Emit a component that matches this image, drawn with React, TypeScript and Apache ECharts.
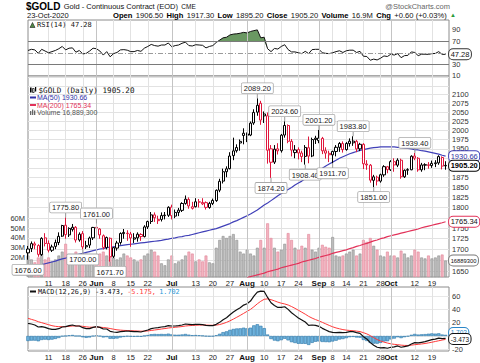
import React, { useEffect, useRef } from "react";
import * as echarts from "echarts";

// ---------- DATA ----------
const monthDays: [string, number[]][] = [
  ["May", [1, 4, 5, 6, 7, 8, 11, 12, 13, 14, 15, 18, 19, 20, 21, 22, 26, 27, 28, 29]],
  ["Jun", [1, 2, 3, 4, 5, 8, 9, 10, 11, 12, 15, 16, 17, 18, 19, 22, 23, 24, 25, 26, 29, 30]],
  ["Jul", [1, 2, 6, 7, 8, 9, 10, 13, 14, 15, 16, 17, 20, 21, 22, 23, 24, 27, 28, 29, 30, 31]],
  ["Aug", [3, 4, 5, 6, 7, 10, 11, 12, 13, 14, 17, 18, 19, 20, 21, 24, 25, 26, 27, 28, 31]],
  ["Sep", [1, 2, 3, 4, 8, 9, 10, 11, 14, 15, 16, 17, 18, 21, 22, 23, 24, 25, 28, 29, 30]],
  ["Oct", [1, 2, 5, 6, 7, 8, 9, 12, 13, 14, 15, 16, 19, 20, 21, 22, 23]],
];

const xTickLabels = [
  "May 11", "May 18", "May 26", "Jun 1", "Jun 8", "Jun 15", "Jun 22", "Jul 1", "Jul 13", "Jul 20",
  "Jul 27", "Aug 3", "Aug 10", "Aug 17", "Aug 24", "Sep 1", "Sep 8", "Sep 14", "Sep 21", "Sep 28",
  "Oct 1", "Oct 12", "Oct 19",
];

const opens = [
  1692, 1702, 1713, 1709, 1688, 1727, 1714, 1698, 1707, 1716,
  1731, 1757, 1734, 1747, 1752, 1722, 1737, 1706, 1710, 1727,
  1752, 1748, 1732, 1704, 1726, 1684, 1703, 1716, 1737, 1738,
  1736, 1724, 1727, 1735, 1730, 1753, 1766, 1782, 1768, 1771,
  1780, 1781, 1801, 1779, 1788, 1793, 1810, 1820, 1798, 1802,
  1814, 1809, 1812, 1800, 1810, 1817, 1843, 1866, 1890, 1898,
  1932, 1945, 1970, 1992, 1990, 1987, 2020, 2050, 2075, 2045,
  2040, 1950, 1915, 1950, 1945, 1987, 2013, 1970, 1940, 1948,
  1939, 1930, 1953, 1931, 1975, 1972, 1978, 1945, 1938, 1934,
  1943, 1954, 1964, 1948, 1964, 1966, 1970, 1950, 1962, 1910,
  1907, 1868, 1876, 1866, 1882, 1903, 1895, 1916, 1907, 1920,
  1877, 1894, 1895, 1931, 1925, 1895, 1907, 1908, 1906, 1911,
  1913, 1927, 1906.5,
];
const highs = [
  1708, 1718.5, 1718, 1712, 1728.5, 1738, 1721, 1711, 1723, 1740,
  1758, 1775.8, 1752, 1760, 1755, 1740, 1743, 1720, 1730, 1753,
  1761, 1750, 1735, 1730, 1728, 1706, 1720, 1740, 1748, 1745,
  1741, 1738, 1740, 1738, 1757, 1768, 1789, 1788, 1780, 1788,
  1789, 1803, 1807, 1795, 1799, 1813, 1829.8, 1825, 1814, 1823,
  1821, 1823, 1815, 1814, 1822, 1845, 1872, 1898, 1904, 1941,
  1980, 1962, 1975, 2005.4, 1994, 2024, 2058, 2089.2, 2082, 2052,
  2049, 1960, 1960, 1965, 1990, 2024.6, 2016, 1976, 1960, 1954,
  1945, 1960, 1983, 1980, 1985, 2001.2, 1982, 1954, 1945, 1945,
  1960, 1968, 1970, 1968, 1978, 1983.8, 1974, 1966, 1965, 1920,
  1910, 1882, 1880, 1885, 1907, 1905, 1920, 1925, 1925, 1924,
  1896, 1899, 1933, 1939.4, 1928, 1913, 1912, 1915, 1919, 1920,
  1933, 1930, 1917.3,
];
const lows = [
  1676, 1694, 1700.5, 1683, 1685, 1707, 1693, 1694, 1700.5, 1710,
  1729, 1725, 1729, 1742, 1716, 1718, 1700, 1701, 1703, 1722,
  1733, 1725, 1700, 1700, 1671.7, 1680, 1697, 1711, 1725, 1720,
  1706, 1715, 1718, 1720, 1728, 1748, 1760, 1765, 1760, 1766,
  1771, 1777, 1771, 1774, 1779, 1789, 1807, 1797, 1795, 1800,
  1800, 1806, 1795, 1797, 1806, 1814, 1838, 1860, 1876, 1896,
  1920, 1940, 1945, 1962, 1968, 1984, 2015, 2040, 2015, 2020,
  1911, 1874.2, 1910, 1935, 1940, 1980, 1965, 1930, 1925, 1922,
  1915, 1908.4, 1912, 1928, 1963, 1965, 1936, 1924, 1915, 1911.7,
  1930, 1942, 1940, 1945, 1956, 1958, 1941, 1944, 1897, 1895,
  1862, 1851, 1855, 1862, 1877, 1886, 1892, 1890, 1902, 1872,
  1874, 1882, 1894, 1920, 1890, 1890, 1894, 1898, 1900, 1902,
  1908, 1896, 1895.2,
];
const closes = [
  1700.9, 1713.5, 1710.0, 1688.5, 1725.8, 1713.9, 1698.0, 1705.8, 1715.9, 1730.6,
  1756.3, 1734.7, 1749.4, 1752.1, 1721.9, 1735.5, 1705.9, 1708.8, 1726.6, 1751.7,
  1750.3, 1734.0, 1704.6, 1727.7, 1683.0, 1704.0, 1714.9, 1737.3, 1739.8, 1737.0,
  1726.8, 1727.1, 1735.6, 1730.0, 1753.0, 1765.8, 1782.0, 1775.0, 1771.0, 1780.3,
  1781.4, 1800.5, 1779.9, 1788.0, 1793.5, 1809.9, 1820.6, 1803.8, 1801.9, 1814.1,
  1813.4, 1812.3, 1800.3, 1810.0, 1817.4, 1842.8, 1865.5, 1890.0, 1897.5, 1931.0,
  1944.6, 1953.4, 1965.6, 1985.9, 1986.3, 2019.6, 2049.3, 2069.4, 2028.0, 2039.7,
  1946.3, 1914.6, 1949.0, 1944.7, 1986.7, 2013.1, 1970.2, 1946.6, 1947.0, 1939.0,
  1929.5, 1953.8, 1930.8, 1974.9, 1978.6, 1978.9, 1944.7, 1938.6, 1934.3, 1943.2,
  1954.1, 1964.3, 1947.9, 1964.3, 1970.5, 1970.7, 1949.8, 1962.1, 1910.6, 1907.6,
  1868.4, 1876.9, 1866.3, 1882.3, 1903.2, 1895.5, 1916.3, 1907.6, 1920.1, 1877.2,
  1893.7, 1895.5, 1930.4, 1925.2, 1894.8, 1907.6, 1908.3, 1906.4, 1911.7, 1913.1,
  1929.5, 1904.6, 1905.2,
];
const volumesM = [
  22, 18, 15, 20, 24, 18, 20, 16, 18, 22,
  26, 34, 22, 18, 26, 16, 24, 24, 20, 22,
  20, 24, 26, 22, 32, 20, 18, 20, 24, 22,
  20, 18, 16, 18, 22, 24, 28, 26, 22, 14,
  12, 18, 22, 14, 16, 18, 22, 26, 24, 16,
  18, 16, 22, 15, 14, 30, 38, 42, 40, 42,
  44, 38, 26, 24, 28, 24, 22, 30, 38, 30,
  55, 40, 30, 26, 28, 34, 45, 38, 30, 28,
  32, 30, 44, 28, 26, 30, 33, 31, 30, 41,
  22, 21, 22, 24, 26, 28, 22, 24, 38, 36,
  40, 32, 28, 22, 21, 26, 22, 22, 20, 27,
  24, 20, 22, 28, 26, 20, 19, 22, 19, 20,
  22, 23, 16.8893,
];
const ma50 = [
  1655, 1658, 1660, 1662, 1665, 1667, 1669, 1671, 1673, 1676,
  1678, 1680, 1683, 1685, 1687, 1689, 1691, 1693, 1695, 1697,
  1699, 1701, 1702, 1704, 1705, 1706, 1707, 1709, 1710, 1711,
  1712, 1713, 1714, 1715, 1716, 1717, 1718, 1719, 1720, 1721,
  1723, 1724, 1726, 1727, 1729, 1730, 1732, 1733, 1735, 1737,
  1739, 1741, 1743, 1745, 1747, 1749, 1752, 1755, 1758, 1761,
  1765, 1768, 1772, 1776, 1780, 1784, 1789, 1794, 1800, 1806,
  1811, 1817, 1823, 1829, 1835, 1840, 1845, 1850, 1856, 1861,
  1866, 1872, 1877, 1882, 1888, 1893, 1899, 1905, 1910, 1915,
  1920, 1925, 1929, 1933, 1937, 1940, 1943, 1946, 1948, 1950,
  1952, 1953, 1954, 1955, 1955, 1955, 1955, 1955, 1954, 1953,
  1952, 1951, 1950, 1948, 1947, 1945, 1944, 1942, 1940, 1938,
  1936, 1933, 1930.66,
];
const ma200Start = 64;
const ma200 = [
  1636, 1638, 1640, 1642, 1644, 1646, 1649, 1651, 1653, 1655,
  1658, 1660, 1662, 1664, 1666, 1668, 1671, 1673, 1675, 1677,
  1679, 1682, 1684, 1686, 1688, 1691, 1693, 1695, 1697, 1699,
  1702, 1704, 1707, 1709, 1712, 1714, 1717, 1720, 1722, 1725,
  1727, 1730, 1732, 1734, 1736, 1738, 1740, 1742, 1744, 1746,
  1748, 1751, 1753, 1755, 1757, 1759, 1761, 1763, 1765.34,
];
const rsi14 = [
  54, 56, 55, 49, 56, 53, 50, 52, 54, 57,
  61, 55, 58, 58.5, 51, 54, 48, 49, 53, 58,
  57, 53, 46, 52, 43, 48.5, 50.5, 55, 55.5, 54.5,
  52, 52, 54, 52.5, 58, 61, 64.5, 62.5, 61.5, 63.5,
  63.5, 67, 60.5, 62.5, 63.5, 66.5, 68.5, 62.5, 61.8, 64,
  63.5, 63, 58.5, 61, 62.5, 68, 72, 76, 77, 81,
  82.5, 83, 84, 85.5, 84.5, 87, 88.5, 89.8, 76, 77,
  57, 52, 57.5, 56.5, 61, 64, 55.5, 51.5, 51.5, 50,
  48.5, 52.5, 48.5, 55.5, 56, 56, 50, 49, 48.5, 50,
  52, 53.5, 50.5, 53.5, 54.5, 54.5, 50.5, 52.5, 44, 43.5,
  37, 39, 37.5, 40.5, 44.5, 43.5, 47.5, 46, 48.5, 41.5,
  45, 45.5, 51.5, 50.5, 45, 47.5, 47.5, 47.2, 48.5, 48.8,
  52, 47.2, 47.28,
];
const macdLine = [
  19, 18, 16.5, 13.5, 14, 13, 11, 10, 10, 11,
  13.5, 14, 15.5, 16.5, 15, 15, 12.5, 11, 11, 13,
  14, 13, 10.5, 10.5, 7, 6, 5.5, 6.5, 7, 7.5,
  7, 6.5, 6.5, 6, 7.5, 9, 11, 12, 12.5, 13.5,
  14, 15.5, 15, 15, 15.5, 16.5, 18, 17.5, 17, 17.5,
  17.5, 17, 16, 15.5, 15.5, 17.5, 20.5, 24.5, 27.5, 32,
  36, 39.5, 42.5, 46.5, 48.5, 52.5, 60, 66, 67.5, 67,
  58, 50, 46, 43, 43, 44, 40, 35, 31, 27,
  24, 21, 16, 16.5, 16, 14.5, 11.5, 9, 6.5, 5.5,
  5, 5.5, 5, 5.5, 6.5, 6.5, 5, 4, -1, -4.5,
  -10, -14, -17, -18, -17.5, -18.5, -17, -16.5, -15, -17,
  -16, -15, -12, -10, -10.5, -9.5, -8.5, -7, -5.5, -4.8,
  -3.2, -3.9, -3.473,
];
const signalLine = [
  26.6, 25, 23.5, 21.5, 20, 18.5, 17, 15.5, 14.5, 14,
  14, 14, 14.5, 15, 15, 15, 14.5, 13.8, 13.2, 13.2,
  13.4, 13.3, 12.7, 12.2, 11.2, 10.2, 9.3, 8.8, 8.4, 8.2,
  8, 7.7, 7.5, 7.2, 7.3, 7.6, 8.3, 9, 9.7, 10.5,
  11.2, 12, 12.6, 13.1, 13.6, 14.2, 15, 15.5, 15.8, 16.1,
  16.4, 16.5, 16.4, 16.2, 16.1, 16.4, 17.2, 18.7, 20.5, 22.8,
  25.4, 28.2, 31, 34, 37, 40, 44, 48.4, 52.2, 55.2,
  55.8, 54.6, 52.9, 50.9, 49.3, 48.2, 46.6, 44.3, 41.6, 38.7,
  35.8, 32.8, 29.5, 26.9, 24.7, 22.7, 20.5, 18.2, 15.9, 13.8,
  12.1, 10.8, 9.6, 8.8, 8.3, 7.9, 7.3, 6.6, 5, 3.1,
  0.5, -2.5, -5.4, -7.6, -9.2, -10.6, -11.8, -12.6, -13.1, -13.8,
  -14.2, -14.3, -13.8, -13.1, -12.6, -12, -11.3, -10.4, -9.4, -8.3,
  -7.2, -6.1, -5.175,
];
// labelled highs / lows
const annotations: [number, number, "top" | "bottom"][] = [
  [0, 1676.0, "bottom"], [11, 1775.8, "top"], [16, 1700.0, "bottom"], [20, 1761.0, "top"],
  [24, 1671.7, "bottom"], [67, 2089.2, "top"], [71, 1874.2, "bottom"], [75, 2024.6, "top"],
  [81, 1908.4, "bottom"], [85, 2001.2, "top"], [89, 1911.7, "bottom"], [95, 1983.8, "top"],
  [101, 1851.0, "bottom"], [113, 1939.4, "top"],
];
const priceGridTicks = [1650, 1675, 1700, 1725, 1750, 1775, 1800, 1825, 1850, 1875, 1900, 1925, 1950, 1975, 2000, 2025, 2050, 2075, 2100, 2125, 2150];
// labels hidden behind the value tags in the reference are left out
const priceLabelTicks = [1650, 1700, 1725, 1750, 1800, 1825, 1850, 1875, 1950, 1975, 2000, 2025, 2050, 2075, 2100];
const volumeLabelTicks = [20e6, 30e6, 40e6, 50e6, 60e6];
const rsiTicks = [10, 30, 70, 90];
const macdGridTicks = [-20, 0, 20, 40, 60];
const macdLabelTicks = [-20, 20, 40, 60];

// ---------- STYLE ----------
const BLACK = "#000000";
const RED = "#e0173c";
const FONT = "Liberation Sans";
const MONO = "DejaVu Sans Mono";

function buildOption() {
  const L = Math.log;
  const categories: string[] = [];
  const monthStarts: string[] = [];
  monthDays.forEach(([m, ds]) =>
    ds.forEach((d, k) => {
      const c = `${m} ${d}`;
      categories.push(c);
      if (k === 0) monthStarts.push(c);
    })
  );
  const axisCats = categories.concat([""]);
  const last = categories[categories.length - 1];
  const tickSet = new Set(xTickLabels);
  const isTick = (_i: number, v: string) => tickSet.has(v);
  const monthLines = monthStarts.filter((c) => tickSet.has(c));
  const fmtDate = (v: string) => {
    if (!tickSet.has(v)) return "";
    const [m, d] = v.split(" ");
    return monthStarts.includes(v) ? `{m|${m}}` : d;
  };

  const xAxis = (gridIndex: number, showLabels: boolean) => ({
    type: "category",
    gridIndex,
    data: axisCats,
    boundaryGap: false,
    axisLine: { show: false },
    axisTick: { show: false },
    axisLabel: {
      show: showLabels,
      interval: isTick,
      formatter: fmtDate,
      fontSize: 7.5,
      color: "#222",
      margin: 2,
      fontFamily: FONT,
      rich: { m: { fontWeight: "bold", fontSize: 8, color: "#111", fontFamily: FONT } },
    },
    splitLine: { show: true, interval: isTick, lineStyle: { color: "#e2e2e2", width: 1 } },
  });

  const yLabel = { fontSize: 7.5, color: "#333", margin: 3, fontFamily: FONT };

  const tag = (coord: [string, number], text: string, border: string, color = "#111", bold = false, fontSize = 7.5) => ({
    coord,
    value: 0,
    symbol: "rect",
    symbolSize: 0.1,
    label: {
      show: true,
      position: "right",
      distance: 3.5,
      formatter: text,
      fontSize,
      fontWeight: bold ? "bold" : "normal",
      color,
      fontFamily: FONT,
      backgroundColor: "#fff",
      borderColor: border,
      borderWidth: 1,
      borderRadius: 4,
      padding: [1, 1.5, 0, 1.5],
      lineHeight: 9,
    },
  });

  const monthMarkLines = (extra: any[] = []) => ({
    silent: true,
    symbol: ["none", "none"],
    label: { show: false },
    animation: false,
    lineStyle: { color: "#c4c4c4", width: 1, type: "solid" },
    data: monthLines.map((c) => ({ xAxis: c })).concat(extra),
  });

  const candleData = closes.map((c, i) => {
    const col = i === 0 || c >= closes[i - 1] ? BLACK : RED;
    return {
      value: [L(opens[i]), L(c), L(lows[i]), L(highs[i])],
      itemStyle: { color: "#ffffff", color0: col, borderColor: col, borderColor0: col, borderColorDoji: col },
    };
  });

  const volData = volumesM.map((v, i) => {
    const down = i > 0 && closes[i] < closes[i - 1];
    return {
      value: v * 1e6,
      itemStyle: down
        ? { color: "#f3b3c0", borderColor: "#e08597", borderWidth: 0.6 }
        : { color: "#bdbdbd", borderColor: "#8e8e8e", borderWidth: 0.6 },
    };
  });

  const annData = annotations.map(([i, p, side]) => ({
    coord: [categories[i], L(p)],
    value: p,
    symbol: "rect",
    symbolSize: [1, 5],
    symbolOffset: [0, side === "top" ? -2.5 : 2.5],
    itemStyle: { color: "#999" },
    label: {
      show: true,
      position: side,
      distance: 0,
      formatter: p.toFixed(2),
      fontSize: 7.5,
      color: "#222",
      fontFamily: FONT,
      backgroundColor: "#fff",
      borderColor: "#a8a8a8",
      borderWidth: 0.8,
      borderRadius: 1,
      padding: [1, 2, 0, 2],
      lineHeight: 9,
    },
  }));

  const hist = macdLine.map((m, i) => +(m - signalLine[i]).toFixed(3));

  return {
    animation: false,
    backgroundColor: "#ffffff",
    textStyle: { fontFamily: FONT },
    grid: [
      { left: 28, right: 31, top: 20, height: 56, show: true, borderColor: "#8c8c8c", borderWidth: 1, backgroundColor: "#fff" },
      { left: 28, right: 31, top: 76, height: 201, show: true, borderColor: "#8c8c8c", borderWidth: 1, backgroundColor: "#fff" },
      { left: 28, right: 31, top: 287, height: 64, show: true, borderColor: "#8c8c8c", borderWidth: 1, backgroundColor: "#fff" },
    ],
    xAxis: [xAxis(0, false), xAxis(1, true), xAxis(2, true)],
    yAxis: [
      {
        type: "value", gridIndex: 0, position: "right", min: 9.6, max: 107,
        axisLine: { show: false }, axisTick: { show: false, customValues: rsiTicks },
        axisLabel: { ...yLabel, customValues: rsiTicks }, splitLine: { show: false },
      },
      {
        type: "value", gridIndex: 1, position: "right", min: L(1637.2), max: L(2153.7),
        axisLine: { show: false }, axisTick: { show: false, customValues: priceGridTicks.map(L) },
        axisLabel: { ...yLabel, customValues: priceLabelTicks.map(L), formatter: (v: number) => String(Math.round(Math.exp(v))) },
        splitLine: { show: true, lineStyle: { color: "#e2e2e2", width: 1 } },
      },
      {
        type: "value", gridIndex: 1, position: "left", min: 0, max: 206e6,
        axisLine: { show: false }, axisTick: { show: false, customValues: volumeLabelTicks },
        axisLabel: { ...yLabel, customValues: volumeLabelTicks, formatter: (v: number) => `${Math.round(v / 1e6)}M` },
        splitLine: { show: false },
      },
      {
        type: "value", gridIndex: 2, position: "right", min: -22.6, max: 73.7,
        axisLine: { show: false }, axisTick: { show: false, customValues: macdGridTicks },
        axisLabel: { ...yLabel, customValues: macdLabelTicks },
        splitLine: { show: true, lineStyle: { color: "#e8e8e8", width: 1 } },
      },
    ],
    series: [
      // RSI fill above 70
      {
        type: "line", xAxisIndex: 0, yAxisIndex: 0, stack: "rsi", symbol: "none", silent: true,
        data: rsi14.map((v) => Math.min(v, 70)), lineStyle: { opacity: 0 },
      },
      {
        type: "line", xAxisIndex: 0, yAxisIndex: 0, stack: "rsi", symbol: "none", silent: true,
        data: rsi14.map((v) => Math.max(v - 70, 0)), lineStyle: { opacity: 0 },
        areaStyle: { color: "#6a9862", opacity: 1 },
      },
      {
        type: "line", xAxisIndex: 0, yAxisIndex: 0, symbol: "none", data: rsi14, z: 4,
        lineStyle: { color: "#111", width: 1 },
        markLine: monthMarkLines([
          { yAxis: 70, lineStyle: { color: "#7a7a7a", width: 1, type: "solid" } },
          { yAxis: 30, lineStyle: { color: "#7a7a7a", width: 1, type: "solid" } },
          { yAxis: 50, lineStyle: { color: "#9a9a9a", width: 1, type: [5, 2, 1, 2] } },
        ]),
        markPoint: { z: 10, data: [tag([last, 47.28], "47.28", "#333")] },
      },
      // volume
      {
        type: "bar", xAxisIndex: 1, yAxisIndex: 2, data: volData, barWidth: 2.8, z: 1,
        markPoint: { z: 9, data: [tag([last, 16889300], "16889300", "#777", "#111", false, 5.8)] },
      },
      // MA200
      {
        type: "line", xAxisIndex: 1, yAxisIndex: 1, symbol: "none", z: 3,
        data: ma200.map((v, k) => [ma200Start + k, L(v)]),
        lineStyle: { color: "#e2335a", width: 1.2 },
        markPoint: { z: 10, data: [tag([last, L(1765.34)], "1765.34", "#e2335a")] },
      },
      // MA50
      {
        type: "line", xAxisIndex: 1, yAxisIndex: 1, symbol: "none", z: 3,
        data: ma50.map((v) => L(v)),
        lineStyle: { color: "#4040b8", width: 1.2 },
        markLine: monthMarkLines(),
        markPoint: { z: 10, data: [tag([last, L(1930.66)], "1930.66", "#4040b8", "#3030a0")] },
      },
      // candles
      {
        type: "candlestick", xAxisIndex: 1, yAxisIndex: 1, data: candleData, barWidth: 2.6, z: 4,
        itemStyle: { borderWidth: 1 },
        markPoint: { z: 11, data: [...annData, tag([last, L(1905.2)], "1905.20", "#000", "#000", true)] },
      },
      // MACD histogram
      {
        type: "bar", xAxisIndex: 2, yAxisIndex: 3, data: hist, barWidth: 3.4, z: 1,
        itemStyle: { color: "#6eb2dc", borderColor: "#2a76a8", borderWidth: 0.6 },
        markPoint: { z: 10, data: [tag([last, 4.6], "1.702", "#2a86c8", "#2a86c8", false, 6.5)] },
      },
      // signal
      {
        type: "line", xAxisIndex: 2, yAxisIndex: 3, symbol: "none", data: signalLine, z: 3,
        lineStyle: { color: "#ff3a3a", width: 1 },
      },
      // MACD
      {
        type: "line", xAxisIndex: 2, yAxisIndex: 3, symbol: "none", data: macdLine, z: 4,
        lineStyle: { color: "#111", width: 1.2 },
        markLine: monthMarkLines(),
        markPoint: { z: 12, data: [tag([last, -4.6], "-3.473", "#111", "#111", false, 6.5)] },
      },
    ],
    graphic: [
      {
        type: "text", x: 26, y: 6,
        style: {
          text: "{t|$GOLD} {s|Gold - Continuous Contract (EOD)} {c|CME}",
          verticalAlign: "middle",
          rich: {
            t: { fontSize: 10, fontWeight: "bold", fontFamily: FONT, fill: "#000" },
            s: { fontSize: 7.5, fontFamily: FONT, fill: "#111" },
            c: { fontSize: 6.5, fontFamily: FONT, fill: "#111" },
          },
        },
      },
      { type: "text", x: 27, y: 15, style: { text: "23-Oct-2020", fontSize: 7.5, fontFamily: FONT, fill: "#111", verticalAlign: "middle" } },
      {
        type: "text", x: 113, y: 15,
        style: {
          text: "{b|Open} {n|1906.50} {b|High} {n|1917.30} {b|Low} {n|1895.20} {b|Close} {n|1905.20} {b|Volume} {n|16.9M} {b|Chg} {n|+0.60 (+0.03%)} {g|▲}",
          verticalAlign: "middle",
          rich: {
            b: { fontSize: 7.6, fontWeight: "bold", fontFamily: FONT, fill: "#000" },
            n: { fontSize: 7.6, fontFamily: FONT, fill: "#111" },
            g: { fontSize: 6, fontFamily: FONT, fill: "#2a9a3a" },
          },
        },
      },
      { type: "text", x: 450, y: 6, style: { text: "@StockCharts.com", fontSize: 7.5, fontFamily: FONT, fill: "#666", align: "right", verticalAlign: "middle" } },
      // RSI legend
      { type: "polygon", shape: { points: [[30, 27.5], [32.5, 22.5], [35, 27.5]] }, style: { fill: "#4f8a45", stroke: "#222", lineWidth: 0.6 }, z: 20 },
      { type: "text", x: 37, y: 25, z: 20, style: { text: "RSI(14) 47.28", fontSize: 7, fontFamily: MONO, fill: "#111", verticalAlign: "middle" } },
      // main legend
      { type: "rect", shape: { x: 30, y: 87.5, width: 1.6, height: 5 }, style: { fill: "#000" }, z: 20 },
      { type: "rect", shape: { x: 32.5, y: 88.5, width: 1.6, height: 4 }, style: { fill: "#fff", stroke: "#000", lineWidth: 0.7 }, z: 20 },
      { type: "rect", shape: { x: 35, y: 87, width: 1.2, height: 4.5 }, style: { fill: "#000" }, z: 20 },
      { type: "text", x: 38.5, y: 90.5, z: 20, style: { text: "$GOLD (Daily) 1905.20", fontSize: 7.6, fontFamily: MONO, fill: "#111", verticalAlign: "middle" } },
      { type: "line", shape: { x1: 30, y1: 97.5, x2: 36, y2: 97.5 }, style: { stroke: "#3030a8", lineWidth: 2 }, z: 20 },
      { type: "text", x: 37, y: 97.5, z: 20, style: { text: "MA(50) 1930.66", fontSize: 7, fontFamily: FONT, fill: "#3030a8", verticalAlign: "middle" } },
      { type: "line", shape: { x1: 30, y1: 105, x2: 36, y2: 105 }, style: { stroke: "#e2335a", lineWidth: 2 }, z: 20 },
      { type: "text", x: 37, y: 105, z: 20, style: { text: "MA(200) 1765.34", fontSize: 7, fontFamily: FONT, fill: "#e2335a", verticalAlign: "middle" } },
      { type: "rect", shape: { x: 30, y: 111, width: 1.3, height: 4 }, style: { fill: "#666" }, z: 20 },
      { type: "rect", shape: { x: 32, y: 109.5, width: 1.3, height: 5.5 }, style: { fill: "#666" }, z: 20 },
      { type: "rect", shape: { x: 34, y: 110.5, width: 1.3, height: 4.5 }, style: { fill: "#666" }, z: 20 },
      { type: "text", x: 37, y: 112.5, z: 20, style: { text: "Volume 16,889,300", fontSize: 7, fontFamily: FONT, fill: "#555", verticalAlign: "middle" } },
      // MACD legend
      { type: "line", shape: { x1: 30, y1: 291.5, x2: 36, y2: 291.5 }, style: { stroke: "#111", lineWidth: 2 }, z: 20 },
      {
        type: "text", x: 38, y: 291.5, z: 20,
        style: {
          text: "{k|MACD(12,26,9) -3.473,} {r|-5.175,} {b|1.702}",
          verticalAlign: "middle",
          rich: {
            k: { fontSize: 6.8, fontFamily: MONO, fill: "#111" },
            r: { fontSize: 6.8, fontFamily: MONO, fill: "#ff3a3a" },
            b: { fontSize: 6.8, fontFamily: MONO, fill: "#2a9ad8" },
          },
        },
      },
    ],
  };
}

export default function App() {
  const ref = useRef<HTMLDivElement>(null);
  useEffect(() => {
    if (!ref.current) return;
    const chart = echarts.init(ref.current, undefined, { renderer: "svg" });
    chart.setOption(buildOption() as any);
    return () => chart.dispose();
  }, []);
  return (
    <div
      ref={ref}
      style={{ position: "fixed", left: 0, top: 0, width: 480, height: 363, background: "#fff" }}
    />
  );
}
